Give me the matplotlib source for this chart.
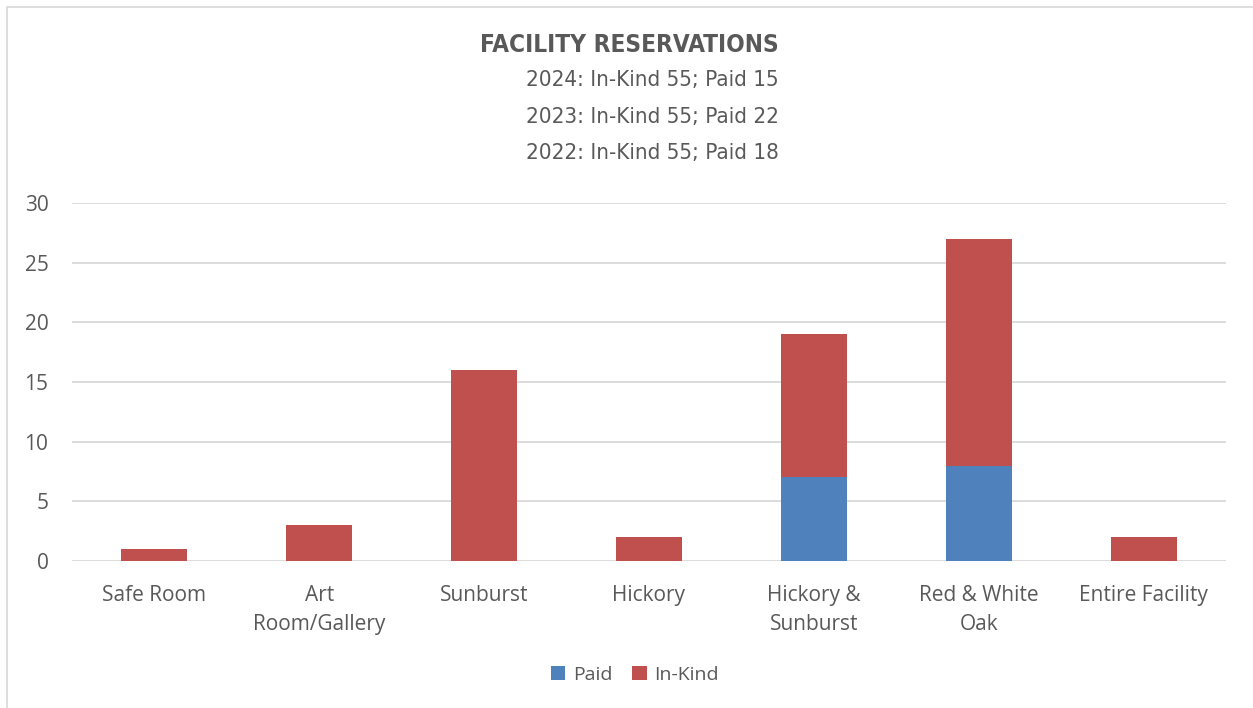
import matplotlib
matplotlib.use("Agg")
import matplotlib.pyplot as plt
from matplotlib.patches import Rectangle
from matplotlib import font_manager as fm
import numpy as np

categories = ["Safe Room", "Art\nRoom/Gallery", "Sunburst", "Hickory",
              "Hickory &\nSunburst", "Red & White\nOak", "Entire Facility"]
paid = [0, 0, 0, 0, 7, 8, 0]
in_kind = [1, 3, 16, 2, 12, 19, 2]
title_lines = ["FACILITY RESERVATIONS", "2024: In-Kind 55; Paid 15",
               "2023: In-Kind 55; Paid 22", "2022: In-Kind 55; Paid 18"]
y_ticks = [0, 5, 10, 15, 20, 25, 30]

BLUE = "#4F81BD"
RED = "#C0504D"
GRID = "#D9D9D9"
TXT = "#595959"

fig = plt.figure(figsize=(12.53, 7.08), dpi=100)
ax = fig.add_axes([72/1253, 1-561/708, (1226-72)/1253, (561-203)/708])

x = np.arange(len(categories))
w = 0.4
b1 = ax.bar(x, paid, w, color=BLUE, label="Paid", zorder=3)
b2 = ax.bar(x, in_kind, w, bottom=paid, color=RED, label="In-Kind", zorder=3)

ax.set_xlim(-0.5, len(categories)-0.5)
ax.set_ylim(0, 30)
ax.set_yticks(y_ticks)
ax.set_xticks(x)
ax.set_xticklabels(categories, fontfamily="Open Sans", fontsize=15, color=TXT, linespacing=1.5)
for lab in ax.get_yticklabels():
    lab.set_fontfamily("Open Sans")
    lab.set_fontsize(15)
    lab.set_color(TXT)
ax.tick_params(axis="both", length=0)
ax.tick_params(axis="y", pad=17)
ax.tick_params(axis="x", pad=17)
ax.grid(axis="y", color=GRID, linewidth=1.3, zorder=0)
for s in ax.spines.values():
    s.set_visible(False)

# find a condensed face if any is installed
cond = None
for f in fm.fontManager.ttflist:
    if f.stretch in ("condensed", "semi-condensed") or "Condensed" in f.name or "Narrow" in f.name:
        cond = f
        break
if cond is not None:
    tfam = [cond.name, "DejaVu Sans"]
    tstretch = cond.stretch
    tsize, ssize = 17.5, 16
else:
    tfam = ["Open Sans", "DejaVu Sans"]
    tstretch = "normal"
    tsize, ssize = 14, 13

xr = 779/1253
fig.text(xr, 1-45/708, title_lines[0], ha="right", va="center",
         fontfamily=tfam, fontstretch=tstretch, fontweight="bold", fontsize=tsize, color=TXT)
for i, yy in enumerate([80, 117, 153]):
    fig.text(xr, 1-yy/708, title_lines[i+1], ha="right", va="center",
             fontfamily=tfam, fontstretch=tstretch, fontsize=ssize, color=TXT)

leg = fig.legend(handles=[b1, b2], loc="center", bbox_to_anchor=(635/1253, 1-675/708),
                 ncol=2, frameon=False, prop={"family": "Open Sans", "size": 14},
                 handlelength=0.75, handleheight=0.75, columnspacing=1.0, handletextpad=0.4)
for t in leg.get_texts():
    t.set_color(TXT)

fig.patches.append(Rectangle((7/1253, -0.1), 1.2, 1-7/708+0.1, transform=fig.transFigure,
                             fill=False, edgecolor=GRID, linewidth=1.2))

fig.savefig("out.png", dpi=100)
